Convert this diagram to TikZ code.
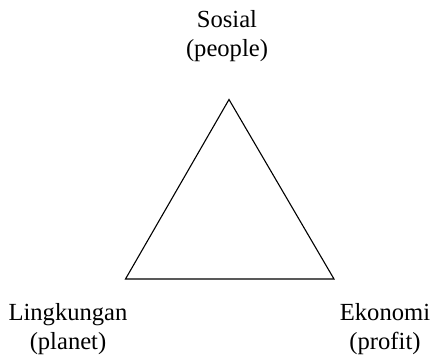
\documentclass[tikz,border=0pt]{standalone}
\usepackage{fontspec}
\setmainfont{Liberation Serif}
\usetikzlibrary{positioning}
\tikzset{
 pillar/.style={align=center, inner sep=0pt, font=\fontsize{12.3}{14.5}\selectfont, anchor=base},
 side/.style={draw=black, line width=0.55pt, line join=miter}
}
\begin{document}
\begin{tikzpicture}[x=0.5pt,y=0.5pt]
\useasboundingbox (0,0) rectangle (433,355);
% vertices of the triangle
\coordinate (top) at (229,255.5);
\coordinate (left) at (125.5,76);
\coordinate (right) at (334,76);
\draw[side] (top) -- (right) -- (left) -- cycle;
% labels (base = last line)
\node[pillar] (sosial) at (227,298.5) {Sosial\\(people)};
\node[pillar] (lingkungan) at (68,5.5) {Lingkungan\\(planet)};
\node[pillar] (ekonomi) at (385,5.5) {Ekonomi\\(profit)};
\end{tikzpicture}
\end{document}
